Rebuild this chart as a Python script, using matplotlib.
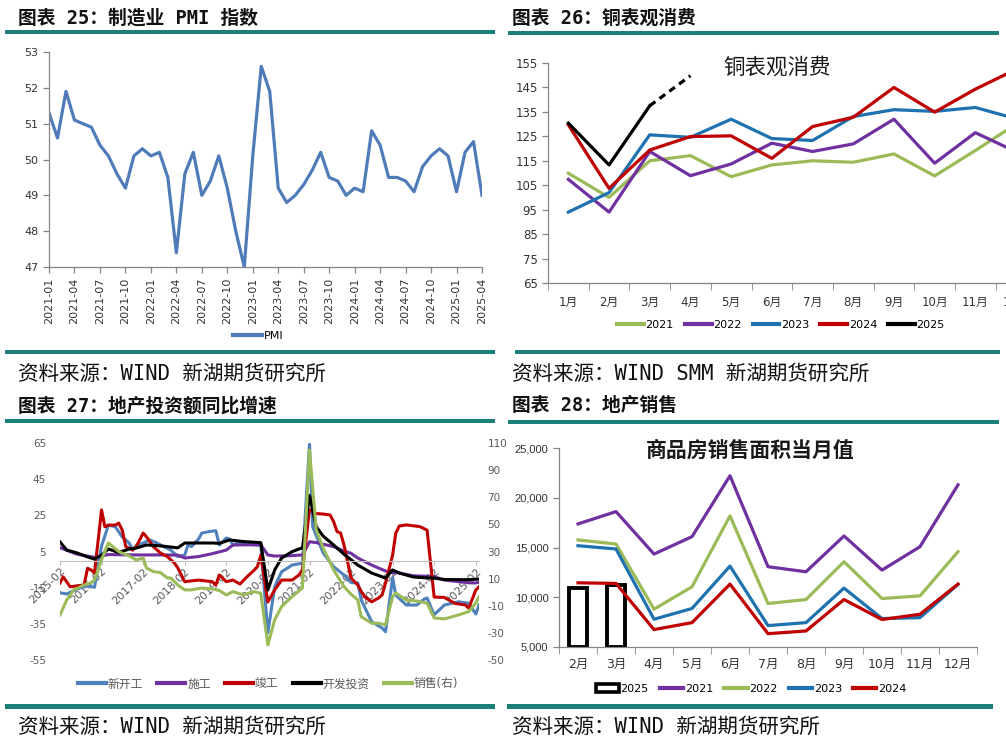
import matplotlib
matplotlib.use("Agg")
import matplotlib.pyplot as plt
from matplotlib.lines import Line2D
from matplotlib.patches import Rectangle, Patch
from matplotlib.ticker import FuncFormatter
import matplotlib.dates as mdates
import pandas as pd

plt.rcParams['font.family'] = ['DejaVu Sans', 'Noto Sans CJK SC']
plt.rcParams['axes.unicode_minus'] = False

W, H = 1006, 741
TEAL = '#1A8079'
HEAD_FONT = ['DejaVu Sans Mono', 'Noto Sans CJK SC']
GRAY = '#595959'
AXIS_GRAY = '#868686'

# ---------------- chart 25: manufacturing PMI ----------------
pmi_months = list(pd.period_range('2021-01', '2025-04', freq='M').strftime('%Y-%m'))
pmi_values = [51.3, 50.6, 51.9, 51.1, 51.0, 50.9, 50.4, 50.1, 49.6, 49.2, 50.1, 50.3,
              50.1, 50.2, 49.5, 47.4, 49.6, 50.2, 49.0, 49.4, 50.1, 49.2, 48.0, 47.0,
              50.1, 52.6, 51.9, 49.2, 48.8, 49.0, 49.3, 49.7, 50.2, 49.5, 49.4, 49.0,
              49.2, 49.1, 50.8, 50.4, 49.5, 49.5, 49.4, 49.1, 49.8, 50.1, 50.3, 50.1,
              49.1, 50.2, 50.5, 49.0]

# ---------------- chart 26: copper apparent consumption ----------------
copper_months = ['1月', '2月', '3月', '4月', '5月', '6月', '7月', '8月', '9月', '10月', '11月', '12月']
copper_2021 = [109.9, 100.0, 115.0, 117.1, 108.5, 113.3, 115.0, 114.4, 117.8, 108.8, 119.2, 130.0]
copper_2022 = [107.4, 94.0, 118.8, 108.9, 113.7, 122.2, 118.8, 121.9, 132.0, 114.0, 126.5, 118.7]
copper_2023 = [94.0, 102.0, 125.6, 124.6, 132.0, 124.1, 123.3, 133.1, 135.9, 135.2, 136.8, 132.2]
copper_2024 = [129.7, 103.7, 119.4, 124.9, 125.2, 116.0, 129.0, 132.8, 145.0, 134.9, 144.3, 152.4]
copper_2025 = [130.4, 113.3, 137.5, 149.8]   # last point is the dashed estimate

# ---------------- chart 27: property investment yoy ----------------
new_start = [("2015-02", -17.8), ("2015-04", -18.5), ("2015-07", -15.7), ("2015-10", -14.0),
             ("2015-12", -14.8), ("2016-02", 8.0), ("2016-04", 19.6), ("2016-06", 18.7),
             ("2016-08", 13.0), ("2016-10", 9.7), ("2016-11", 5.8), ("2016-12", 8.1),
             ("2017-02", 9.7), ("2017-04", 11.4), ("2017-06", 9.7), ("2017-08", 7.7),
             ("2017-10", 5.8), ("2017-12", 2.2), ("2018-02", 3.0), ("2018-03", 8.6),
             ("2018-04", 7.7), ("2018-06", 11.8), ("2018-07", 15.2), ("2018-09", 16.0),
             ("2018-11", 16.5), ("2018-12", 8.6), ("2019-02", 12.5), ("2019-03", 11.9),
             ("2019-04", 8.6), ("2019-06", 10.1), ("2019-08", 8.9), ("2019-12", 8.5),
             ("2020-02", -40.0), ("2020-04", -14.5), ("2020-06", -6.2), ("2020-09", -2.5),
             ("2020-12", -1.5), ("2021-02", 64.5), ("2021-03", 18.7), ("2021-06", 4.2),
             ("2021-09", -3.4), ("2021-12", -8.0), ("2022-02", -12.2), ("2022-04", -12.4),
             ("2022-05", -21.8), ("2022-08", -33.8), ("2022-11", -37.3), ("2022-12", -39.4),
             ("2023-02", -9.4), ("2023-03", -19.2), ("2023-06", -24.6), ("2023-09", -24.6),
             ("2023-11", -21.5), ("2023-12", -20.7), ("2024-02", -30.0), ("2024-05", -24.6),
             ("2024-09", -22.8), ("2024-12", -23.6), ("2025-02", -29.6), ("2025-03", -24.6)]
construct = [("2015-02", 7.1), ("2015-07", 3.5), ("2015-12", 1.8), ("2016-04", 3.3),
             ("2016-12", 3.1), ("2017-06", 3.1), ("2017-12", 3.0), ("2018-02", 1.4),
             ("2018-06", 2.2), ("2018-10", 3.8), ("2018-12", 4.8), ("2019-02", 5.8),
             ("2019-04", 8.6), ("2019-08", 8.7), ("2019-12", 8.7), ("2020-02", 3.1),
             ("2020-04", 2.5), ("2020-08", 2.6), ("2020-12", 3.1), ("2021-02", 10.4),
             ("2021-04", 9.9), ("2021-09", 7.7), ("2021-12", 5.2), ("2022-02", 4.0),
             ("2022-04", 1.4), ("2022-08", -2.5), ("2022-12", -5.8), ("2023-02", -6.7),
             ("2023-04", -6.9), ("2023-08", -8.4), ("2024-02", -8.9), ("2024-05", -10.8),
             ("2024-12", -12.3), ("2025-02", -12.4), ("2025-03", -12.0)]
complete = [("2015-02", -12.4), ("2015-03", -9.0), ("2015-05", -14.5), ("2015-09", -13.5),
            ("2015-10", -4.3), ("2015-11", -5.2), ("2015-12", -6.9), ("2016-02", 28.0),
            ("2016-03", 18.7), ("2016-04", 19.6), ("2016-06", 19.6), ("2016-07", 20.7),
            ("2016-08", 16.8), ("2016-09", 7.7), ("2016-11", 5.8), ("2016-12", 7.7),
            ("2017-02", 15.2), ("2017-03", 13.2), ("2017-05", 7.7), ("2017-07", 4.2),
            ("2017-09", 2.2), ("2017-11", -1.3), ("2017-12", -4.0), ("2018-02", -11.7),
            ("2018-06", -10.8), ("2018-10", -11.7), ("2018-11", -13.5), ("2018-12", -8.0),
            ("2019-02", -11.7), ("2019-04", -10.8), ("2019-06", -13.0), ("2019-08", -9.0),
            ("2019-10", -5.5), ("2019-11", -3.4), ("2019-12", 3.0), ("2020-02", -22.9),
            ("2020-04", -16.3), ("2020-06", -10.8), ("2020-09", -10.8), ("2020-11", -8.0),
            ("2020-12", -5.0), ("2021-02", 28.0), ("2021-04", 26.0), ("2021-06", 25.7),
            ("2021-08", 25.2), ("2021-09", 21.5), ("2021-10", 16.0), ("2021-11", 15.2),
            ("2021-12", 8.6), ("2022-02", -9.7), ("2022-04", -13.5), ("2022-05", -17.0),
            ("2022-06", -20.0), ("2022-08", -22.8), ("2022-10", -20.7), ("2022-11", -19.0),
            ("2022-12", -12.4), ("2023-02", 3.0), ("2023-03", 15.2), ("2023-04", 19.1),
            ("2023-06", 19.7), ("2023-09", 19.0), ("2023-10", 18.7), ("2023-12", 16.8),
            ("2024-02", -20.2), ("2024-05", -20.4), ("2024-08", -23.7), ("2024-11", -24.6),
            ("2024-12", -26.3), ("2025-02", -16.3), ("2025-03", -14.5)]
invest = [("2015-02", 10.3), ("2015-04", 5.8), ("2015-07", 4.2), ("2015-10", 2.0),
          ("2015-12", 0.8), ("2016-02", 3.0), ("2016-04", 6.4), ("2016-07", 4.4),
          ("2016-10", 6.4), ("2016-12", 6.9), ("2017-03", 8.6), ("2017-06", 8.3),
          ("2017-09", 7.7), ("2017-12", 7.0), ("2018-02", 9.7), ("2018-06", 9.7),
          ("2018-10", 9.7), ("2018-12", 9.5), ("2019-03", 11.4), ("2019-07", 10.5),
          ("2019-12", 9.9), ("2020-02", -16.3), ("2020-04", -5.2), ("2020-06", 1.4),
          ("2020-09", 4.9), ("2020-11", 6.4), ("2020-12", 7.0), ("2021-02", 36.0),
          ("2021-04", 18.7), ("2021-06", 13.5), ("2021-09", 8.6), ("2021-12", 3.5),
          ("2022-04", -2.5), ("2022-08", -6.9), ("2022-12", -9.7), ("2023-02", -5.2),
          ("2023-04", -6.9), ("2023-08", -9.1), ("2023-12", -9.6), ("2024-02", -9.7),
          ("2024-05", -10.5), ("2024-12", -10.6), ("2025-02", -10.3), ("2025-03", -10.3)]
sales = [("2015-02", -16.8), ("2015-04", -5.7), ("2015-06", 1.7), ("2015-09", 5.3),
         ("2015-11", 7.0), ("2015-12", 9.0), ("2016-02", 24.0), ("2016-04", 36.3),
         ("2016-07", 29.9), ("2016-10", 26.7), ("2016-12", 23.8), ("2017-02", 25.2),
         ("2017-03", 17.9), ("2017-05", 15.2), ("2017-07", 14.5), ("2017-09", 10.5),
         ("2017-10", 10.5), ("2017-12", 5.3), ("2018-02", 1.7), ("2018-04", 1.7),
         ("2018-07", 3.1), ("2018-10", 2.4), ("2018-12", 1.3), ("2019-02", -2.0),
         ("2019-04", 0.4), ("2019-07", -2.0), ("2019-10", 0.4), ("2019-12", -0.8),
         ("2020-02", -38.9), ("2020-04", -20.4), ("2020-06", -10.6), ("2020-09", -3.3),
         ("2020-12", 3.1), ("2021-02", 104.8), ("2021-04", 45.9), ("2021-06", 32.6),
         ("2021-09", 16.4), ("2021-12", 4.1), ("2022-02", -1.5), ("2022-04", -5.7),
         ("2022-05", -18.0), ("2022-08", -22.9), ("2022-10", -22.9), ("2022-12", -24.1),
         ("2023-02", -3.3), ("2023-03", -0.6), ("2023-06", -5.7), ("2023-09", -6.5),
         ("2023-12", -8.1), ("2024-02", -19.0), ("2024-05", -19.7), ("2024-09", -16.8),
         ("2024-12", -14.3), ("2025-02", -8.1), ("2025-03", -3.3)]
prop_ticks = [f"{y}-02" for y in range(2015, 2026)]

# ---------------- chart 28: housing sales area, monthly ----------------
sales_months = ['2月', '3月', '4月', '5月', '6月', '7月', '8月', '9月', '10月', '11月', '12月']
area_2025 = [10880, 11220]
area_2021 = [17370, 18610, 14340, 16090, 22210, 13070, 12560, 16160, 12730, 15080, 21300]
area_2022 = [15760, 15350, 8800, 11050, 18180, 9370, 9770, 13570, 9870, 10140, 14580]
area_2023 = [15180, 14850, 7790, 8870, 13130, 7150, 7450, 10920, 7860, 7950, 11300]
area_2024 = [11450, 11390, 6750, 7450, 11320, 6340, 6610, 9770, 7760, 8290, 11320]


def px_axes(fig, left, top, right, bottom):
    return fig.add_axes([left / W, 1 - bottom / H, (right - left) / W, (bottom - top) / H])


def teal_bar(fig, x0, x1, y0, y1):
    fig.add_artist(Rectangle((x0 / W, 1 - y1 / H), (x1 - x0) / W, (y1 - y0) / H,
                             transform=fig.transFigure, color=TEAL, lw=0))


def fig_text(fig, x, y, s, **kw):
    fig.text(x / W, 1 - y / H, s, **kw)


def style_basic(ax, color=AXIS_GRAY):
    for side in ('top', 'right'):
        ax.spines[side].set_visible(False)
    for side in ('left', 'bottom'):
        ax.spines[side].set_color(color)
        ax.spines[side].set_linewidth(0.9)
    ax.tick_params(colors=color, labelcolor='#333333', direction='out', length=4, width=0.9)


def legend_at(ax, handles, labels, cx, cy, fontsize, **kw):
    leg = ax.legend(handles, labels, loc='center', bbox_to_anchor=(cx / W, 1 - cy / H),
                    bbox_transform=ax.figure.transFigure, frameon=False, ncol=len(handles),
                    fontsize=fontsize, handletextpad=0.15, borderaxespad=0, **kw)
    return leg


fig = plt.figure(figsize=(W / 100, H / 100), dpi=100)
fig.patch.set_facecolor('white')

# headers / bars / sources
teal_bar(fig, 5, 495, 30, 34)
teal_bar(fig, 508, 999, 31, 35)
teal_bar(fig, 5, 495, 350, 354)
teal_bar(fig, 515, 1000, 350, 354)
teal_bar(fig, 5, 495, 419, 423)
teal_bar(fig, 508, 999, 420, 424)
teal_bar(fig, 5, 495, 704, 709)
teal_bar(fig, 507, 993, 704, 709)

head_kw = dict(family=HEAD_FONT, fontsize=13.5, fontweight='bold', color='#111111', va='center')
fig_text(fig, 18, 18, "图表 25：制造业 PMI 指数", **head_kw)
fig_text(fig, 512, 18, "图表 26：铜表观消费", **head_kw)
fig_text(fig, 18, 406, "图表 27：地产投资额同比增速", **head_kw)
fig_text(fig, 512, 406, "图表 28：地产销售", **head_kw)

src_kw = dict(family=HEAD_FONT, fontsize=14.8, color='#111111', va='center')
fig_text(fig, 18, 374, "资料来源：WIND 新湖期货研究所", **src_kw)
fig_text(fig, 512, 374, "资料来源：WIND SMM 新湖期货研究所", **src_kw)
fig_text(fig, 18, 727, "资料来源：WIND 新湖期货研究所", **src_kw)
fig_text(fig, 512, 727, "资料来源：WIND 新湖期货研究所", **src_kw)

# ---------- chart 25 ----------
ax1 = px_axes(fig, 49, 52, 482, 267)
xi = list(range(len(pmi_months)))
ax1.plot(xi, pmi_values, color='#4F7CB8', lw=2.3, solid_joinstyle='round', label='PMI')
ax1.set_xlim(0, len(pmi_months) - 1)
ax1.set_ylim(47, 53)
ax1.set_yticks(range(47, 54))
ax1.set_xticks(xi[::3])
ax1.set_xticklabels(pmi_months[::3], rotation=90, fontsize=8)
ax1.tick_params(axis='y', labelsize=8)
style_basic(ax1)
legend_at(ax1, [Line2D([], [], color='#4F7CB8', lw=3)], ['PMI'], 258, 336, 8, handlelength=2.6)

# ---------- chart 26 ----------
ax2 = px_axes(fig, 548, 63, 548 + 12 * 40.7, 283)
cx = list(range(len(copper_months)))
copper_series = [(copper_2021, '#9BBB59', '2021'), (copper_2022, '#7030A0', '2022'),
                 (copper_2023, '#1F72B0', '2023'), (copper_2024, '#C00000', '2024')]
for vals, col, lab in copper_series:
    ax2.plot(cx, vals, color=col, lw=2.3, label=lab)
ax2.plot(cx[:3], copper_2025[:3], color='black', lw=2.3)
ax2.plot(cx[2:4], copper_2025[2:4], color='black', lw=2.3, ls=(0, (2.2, 1.6)))
ax2.set_xlim(-0.5, 11.5)
ax2.set_ylim(65, 155)
ax2.set_yticks(range(65, 156, 10))
ax2.set_xticks(cx)
ax2.set_xticklabels(copper_months, fontsize=8.5)
ax2.set_xticks([i - 0.5 for i in range(13)], minor=True)
style_basic(ax2)
ax2.tick_params(axis='x', which='major', length=0, pad=9)
ax2.tick_params(axis='x', which='minor', length=5, color=AXIS_GRAY)
ax2.tick_params(axis='y', labelsize=8.5)
fig_text(fig, 777, 67, "铜表观消费", fontsize=15.5, ha='center', va='center', color='#1a1a1a')
h26 = [Line2D([], [], color=c, lw=3) for _, c, _ in copper_series] + [Line2D([], [], color='black', lw=3)]
legend_at(ax2, h26, ['2021', '2022', '2023', '2024', '2025'], 781, 325, 8,
          handlelength=2.4, columnspacing=1.0)

# ---------- chart 27 ----------
ax3 = px_axes(fig, 60, 443, 479, 660)
ax3b = ax3.twinx()
prop_series = [(new_start, '#4F81BD', '新开工', ax3), (construct, '#7030A0', '施工', ax3),
               (complete, '#C00000', '竣工', ax3), (invest, 'black', '开发投资', ax3),
               (sales, '#9BBB59', '销售(右)', ax3b)]
for data, col, lab, axx in prop_series:
    d = pd.to_datetime([p[0] for p in data])
    axx.plot(d, [p[1] for p in data], color=col, lw=2.2)
ax3.set_xlim(pd.Timestamp('2015-02-01'), pd.Timestamp('2025-03-01'))
ax3.set_ylim(-55, 65)
ax3b.set_ylim(-50, 110)
ax3.set_yticks(range(-55, 66, 20))
ax3b.set_yticks(range(-50, 111, 20))
for a in (ax3, ax3b):
    for side in ('top', 'left', 'right'):
        a.spines[side].set_visible(False)
ax3b.spines['bottom'].set_visible(False)
ax3.spines['bottom'].set_position(('data', 0))
ax3.spines['bottom'].set_color('#BFBFBF')
ax3.set_xticks(pd.to_datetime(prop_ticks))
ax3.xaxis.set_major_formatter(mdates.DateFormatter('%Y-%m'))
ax3.tick_params(axis='x', length=3, color='#BFBFBF', labelsize=8, labelcolor=GRAY, pad=1)
for lbl in ax3.get_xticklabels():
    lbl.set_rotation(45)
    lbl.set_ha('right')
    lbl.set_rotation_mode('anchor')
ax3.tick_params(axis='y', length=0, labelsize=7.5, labelcolor=GRAY, pad=10)
ax3b.tick_params(axis='y', length=0, labelsize=7.5, labelcolor=GRAY, pad=6)
h27 = [Line2D([], [], color=c, lw=3) for _, c, _, _ in prop_series]
legend_at(ax3b, h27, [s[2] for s in prop_series], 268, 684, 8.5,
          handlelength=2.4, columnspacing=1.2, labelcolor=GRAY)

# ---------- chart 28 ----------
ax4 = px_axes(fig, 559, 448, 977, 647)
sx = list(range(len(sales_months)))
ax4.bar(sx[:len(area_2025)], [v - 5000 for v in area_2025], bottom=5000, width=0.45,
        facecolor='white', edgecolor='black', lw=2.8, zorder=1)
area_series = [(area_2021, '#7030A0', '2021'), (area_2022, '#9BBB59', '2022'),
               (area_2023, '#1F72B0', '2023'), (area_2024, '#C00000', '2024')]
for vals, col, lab in area_series:
    ax4.plot(sx, vals, color=col, lw=2.3, zorder=2)
ax4.set_xlim(-0.5, 10.5)
ax4.set_ylim(5000, 25000)
ax4.set_yticks(range(5000, 25001, 5000))
ax4.yaxis.set_major_formatter(FuncFormatter(lambda v, _: f"{v:,.0f}"))
ax4.set_xticks(sx)
ax4.set_xticklabels(sales_months, fontsize=9)
ax4.set_xticks([i - 0.5 for i in range(12)], minor=True)
style_basic(ax4)
ax4.tick_params(axis='x', which='major', length=0, pad=8)
ax4.tick_params(axis='x', which='minor', length=5, color=AXIS_GRAY)
ax4.tick_params(axis='y', labelsize=8)
for lbl in ax4.get_yticklabels():
    lbl.set_family(['Liberation Sans', 'DejaVu Sans'])
fig_text(fig, 750, 450, "商品房销售面积当月值", fontsize=15, fontweight='bold',
         ha='center', va='center', color='#1a1a1a')
h28 = [Patch(facecolor='white', edgecolor='black', lw=2.6)] + \
      [Line2D([], [], color=c, lw=3) for _, c, _ in area_series]
legend_at(ax4, h28, ['2025', '2021', '2022', '2023', '2024'], 751, 689, 8,
          handlelength=2.1, columnspacing=1.0)

fig.savefig('out.png', dpi=100, facecolor='white')
